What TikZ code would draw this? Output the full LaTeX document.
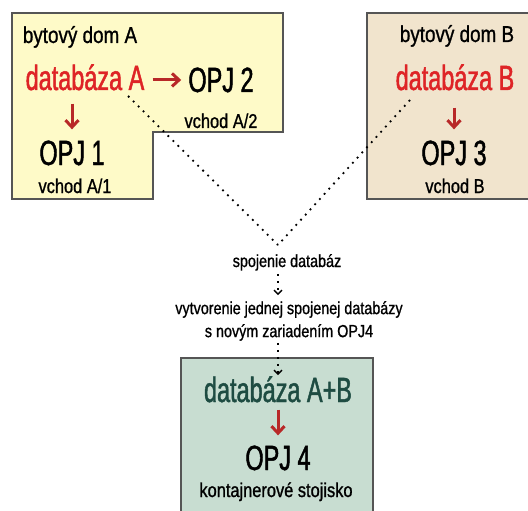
\documentclass[tikz,border=0pt]{standalone}
\usepackage{fontspec}
\setmainfont{Liberation Sans}
\newfontfamily\bigfont[FakeStretch=0.67, FakeBold=1.3]{Liberation Sans}
\newfontfamily\smallfont[FakeStretch=0.82, FakeBold=1.0]{Liberation Sans}
\usetikzlibrary{arrows.meta}
\definecolor{houseA}{RGB}{254,250,200}
\definecolor{houseB}{RGB}{241,228,205}
\definecolor{houseC}{RGB}{200,221,209}
\definecolor{dbred}{RGB}{222,36,38}
\definecolor{arrowred}{RGB}{184,40,40}
\definecolor{dbteal}{RGB}{30,76,66}
\definecolor{edge}{RGB}{85,85,85}

\begin{document}
\begin{tikzpicture}[x=1pt, y=-1pt,
    bigtext/.style={font=\bigfont\fontsize{35}{40}\selectfont, inner sep=0pt, anchor=base},
    smalltext/.style={font=\smallfont\fontsize{20}{24}\selectfont, inner sep=0pt, anchor=base},
    notetext/.style={font=\smallfont\fontsize{17.5}{23}\selectfont, inner sep=0pt},
    redarrow/.style={draw=arrowred, line width=3pt,
                     -{Straight Barb[length=7pt,width=13pt,line width=3pt]},
                     shorten <=13pt, shorten >=11pt},
    dotline/.style={draw=black, line width=1.8pt, dash pattern=on 1.8pt off 5.2pt},
    dotarrow/.style={dotline, -{Straight Barb[length=4pt,width=8pt,line width=1.3pt]}}]
    \useasboundingbox (0,0) rectangle (528,511);
    % houses
    \draw[edge, fill=houseA, line width=1.3pt] (12,13) -- (283,13) -- (283,132) -- (153,132)
          -- (153,199) -- (12,199) -- cycle;
    \draw[edge, fill=houseB, line width=1.3pt] (367,199) -- (367,13) -- (535,13) -- (535,199) -- cycle;
    \draw[edge, fill=houseC, line width=1.3pt] (181,520) -- (181,358) -- (373,358) -- (373,520);
    % house A
    \node[smalltext, font=\smallfont\fontsize{23}{27}\selectfont] (titleA) at (80,43) {bytový dom A};
    \node[bigtext, dbred] (dbA) at (85,90) {databáza A};
    \node[bigtext] (opj2) at (221,92) {OPJ 2};
    \node[smalltext] (entryA2) at (221,128) {vchod A/2};
    \node[bigtext] (opj1) at (72,165) {OPJ 1};
    \node[smalltext] (entryA1) at (75,193) {vchod A/1};
    \draw[redarrow, shorten <=8pt, shorten >=7pt] (dbA.east |- opj2.west) -- (opj2.west);
    \draw[redarrow] (dbA.south -| opj1.north) -- (opj1.north);
    % house B
    \node[smalltext, font=\smallfont\fontsize{23}{27}\selectfont] (titleB) at (457,42) {bytový dom B};
    \node[bigtext, dbred] (dbB) at (455,90) {databáza B};
    \node[bigtext] (opj3) at (454,165) {OPJ 3};
    \node[smalltext] (entryB) at (455,193) {vchod B};
    \draw[redarrow, shorten <=17pt] (dbB.south -| opj3.north) -- (opj3.north);
    % joining
    \coordinate (fromA) at (128,96);
    \coordinate (fromB) at (410,100);
    \coordinate (meet) at (278,245);
    \draw[dotline] (fromA) -- (meet);
    \draw[dotline] (fromB) -- (meet);
    \node[notetext, anchor=base] (join) at (287,267) {spojenie databáz};
    \node[notetext, align=center] (create) at (289,321) {vytvorenie jednej spojenej databázy\\s novým zariadením OPJ4};
    % house C
    \node[bigtext, dbteal] (dbAB) at (278,402) {databáza A+B};
    \node[bigtext] (opj4) at (278,470) {OPJ 4};
    \node[smalltext] (container) at (276,497) {kontajnerové stojisko};
    \draw[redarrow, shorten <=7pt, shorten >=10pt] (dbAB.south -| opj4.north) -- (opj4.north);
    \draw[dotarrow, shorten <=3pt, shorten >=6pt] (join.south -| meet) -- (create.north -| meet);
    \draw[dotarrow, shorten <=2pt, shorten >=1pt] (create.south -| meet) -- (dbAB.north -| meet);
\end{tikzpicture}
\end{document}
